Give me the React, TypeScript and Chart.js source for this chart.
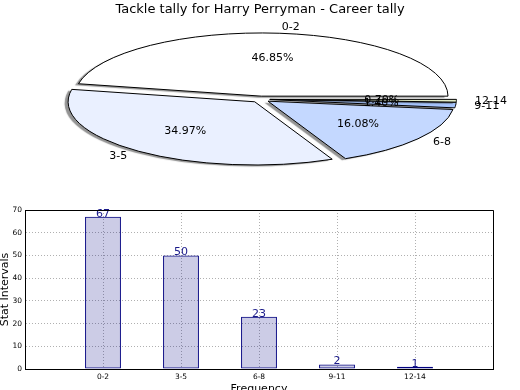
import React, { useEffect, useRef } from 'react';
import { Chart, registerables } from 'chart.js';

Chart.register(...registerables);

// ---- data ----
const chartTitle = 'Tackle tally for Harry Perryman - Career tally';
const categories = ['0-2', '3-5', '6-8', '9-11', '12-14'];
const tallies = [67, 50, 23, 2, 1];
const sliceColors = ['#ffffff', '#eaf0ff', '#c4d8ff', '#a6c4fc', '#e2ebc6'];
const xAxisTitle = 'Frequency';
const yAxisTitle = 'Stat Intervals';
const yMin = 0;
const yMax = 70;
const yStep = 10;

// ---- style / layout ----
const FONT = "'DejaVu Sans', sans-serif";
const EXPLODE = 0.05;
const LABEL_DIST = 1.1;
const PCT_DIST = 0.6;
const PIE = { cx: 260.5, cy: 99.3, rx: 186.6, ry: 63.2 };

const ellipsePiePlugin = {
  id: 'ellipsePie',
  afterUpdate(chart: any) {
    const meta = chart.getDatasetMeta(0);
    const first = meta.data[0];
    if (!first) return;
    const c = { x: first.x, y: first.y, r: first.outerRadius };
    chart.$pieCenter = c;
    meta.data.forEach((el: any) => {
      const mid = (el.startAngle + el.endAngle) / 2;
      el.x = c.x + Math.cos(mid) * EXPLODE * el.outerRadius;
      el.y = c.y + Math.sin(mid) * EXPLODE * el.outerRadius;
    });
  },
  beforeDatasetsDraw(chart: any) {
    const ctx = chart.ctx;
    const c = chart.$pieCenter;
    ctx.save();
    const base = ctx.getTransform();
    ctx.translate(PIE.cx, PIE.cy);
    ctx.scale(PIE.rx / c.r, -PIE.ry / c.r);
    ctx.translate(-c.x, -c.y);
    ctx.shadowColor = 'rgba(40,40,40,0.5)';
    ctx.shadowOffsetX = -3.5;
    ctx.shadowOffsetY = 1.5;
    ctx.shadowBlur = 1;
    const orig = CanvasRenderingContext2D.prototype.stroke;
    ctx.stroke = function (...args: any[]) {
      this.save();
      this.setTransform(base);
      this.shadowColor = 'rgba(0,0,0,0)';
      (orig as any).apply(this, args);
      this.restore();
    };
  },
  afterDatasetsDraw(chart: any) {
    const ctx = chart.ctx;
    delete ctx.stroke;
    ctx.restore();
    const meta = chart.getDatasetMeta(0);
    const values: number[] = chart.data.datasets[0].data;
    const total = values.reduce((a, b) => a + b, 0);
    ctx.save();
    ctx.fillStyle = '#000';
    ctx.font = `11px ${FONT}`;
    ctx.textBaseline = 'middle';
    meta.data.forEach((el: any, i: number) => {
      const mid = (el.startAngle + el.endAngle) / 2;
      const cos = Math.cos(mid);
      const sin = Math.sin(mid);
      // category label
      const lx = PIE.cx + PIE.rx * (LABEL_DIST + EXPLODE) * cos;
      const ly = PIE.cy - PIE.ry * (LABEL_DIST + EXPLODE) * sin;
      ctx.textAlign = cos > 0 ? 'left' : 'right';
      ctx.fillText(chart.data.labels[i], lx, ly);
      // percentage
      const px = PIE.cx + PIE.rx * (PCT_DIST + EXPLODE) * cos;
      const py = PIE.cy - PIE.ry * (PCT_DIST + EXPLODE) * sin;
      ctx.textAlign = 'center';
      ctx.fillText(((values[i] / total) * 100).toFixed(2) + '%', px, py);
    });
    ctx.restore();
  },
};

const barValuePlugin = {
  id: 'barValues',
  afterDatasetsDraw(chart: any) {
    const ctx = chart.ctx;
    const meta = chart.getDatasetMeta(0);
    ctx.save();
    ctx.fillStyle = '#1a1a8a';
    ctx.font = `11px ${FONT}`;
    ctx.textAlign = 'center';
    ctx.textBaseline = 'alphabetic';
    meta.data.forEach((el: any, i: number) => {
      ctx.fillText(String(tallies[i]), el.x, el.y);
    });
    ctx.restore();
  },
};

const framePlugin = {
  id: 'frame',
  afterDraw(chart: any) {
    const { ctx, chartArea: a } = chart;
    ctx.save();
    ctx.strokeStyle = '#000';
    ctx.lineWidth = 1;
    ctx.beginPath();
    ctx.rect(a.left + 0.5, a.top + 0.5, a.right - a.left, a.bottom - a.top);
    ctx.stroke();
    ctx.restore();
  },
};

export default function App() {
  const pieRef = useRef<HTMLCanvasElement>(null);
  const barRef = useRef<HTMLCanvasElement>(null);

  useEffect(() => {
    const pie = new Chart(pieRef.current as HTMLCanvasElement, {
      type: 'pie',
      data: {
        labels: categories,
        datasets: [
          {
            data: tallies,
            backgroundColor: sliceColors,
            borderColor: '#000',
            borderWidth: 1,
            borderJoinStyle: 'miter',
            clip: false,
          } as any,
        ],
      },
      options: {
        animation: false,
        responsive: false,
        events: [],
        rotation: 90,
        layout: { padding: { top: 0, bottom: 4 } },
        plugins: {
          legend: { display: false },
          tooltip: { enabled: false },
          title: {
            display: true,
            text: chartTitle,
            color: '#000',
            font: { family: FONT, size: 13, weight: 'normal' as any },
            padding: { top: 2, bottom: 4 },
          },
        },
      },
      plugins: [ellipsePiePlugin],
    });

    const tickFont = { family: FONT, size: 7.5 };
    const borderOpts = { color: '#000', width: 1, dash: [1, 2] };

    const bar = new Chart(barRef.current as HTMLCanvasElement, {
      type: 'bar',
      data: {
        datasets: [
          {
            data: tallies.map((v, i) => ({ x: i + 1, y: v })),
            backgroundColor: 'rgba(0,0,128,0.2)',
            borderColor: '#000080',
            borderWidth: 1,
            borderSkipped: false,
            barPercentage: 0.46,
            categoryPercentage: 1,
          } as any,
        ],
      },
      options: {
        animation: false,
        responsive: false,
        events: [],
        layout: { padding: { left: 0, right: 27, top: 10, bottom: 0 } },
        plugins: { legend: { display: false }, tooltip: { enabled: false } },
        scales: {
          x: {
            type: 'linear',
            min: 0,
            max: categories.length + 1,
            offset: false,
            ticks: {
              stepSize: 1,
              autoSkip: false,
              maxRotation: 0,
              padding: 4,
              color: '#000',
              font: tickFont,
              callback: (v: any) => categories[Number(v) - 1] ?? '',
            },
            grid: { color: '#b0b0b0', lineWidth: 1, drawTicks: false, offset: false },
            border: borderOpts,
            title: {
              display: true,
              text: xAxisTitle,
              color: '#000',
              font: { family: FONT, size: 11 },
              padding: { top: 0, bottom: 4 },
            },
            afterFit: (s: any) => {
              s.height = 31;
            },
          } as any,
          y: {
            min: yMin,
            max: yMax,
            ticks: { stepSize: yStep, padding: 3, color: '#000', font: tickFont },
            grid: { color: '#b0b0b0', lineWidth: 1, drawTicks: false },
            border: borderOpts,
            title: {
              display: true,
              text: yAxisTitle,
              color: '#000',
              font: { family: FONT, size: 11 },
              padding: { top: -1, bottom: 0 },
            },
            afterFit: (s: any) => {
              s.width = 25;
            },
          } as any,
        },
      },
      plugins: [barValuePlugin, framePlugin],
    });

    return () => {
      pie.destroy();
      bar.destroy();
    };
  }, []);

  return (
    <div
      style={{
        position: 'fixed',
        left: 0,
        top: 0,
        width: 520,
        height: 390,
        overflow: 'hidden',
        background: '#fff',
      }}
    >
      <canvas
        ref={pieRef}
        width={520}
        height={200}
        style={{ position: 'absolute', left: 0, top: 0, width: 520, height: 200 }}
      />
      <canvas
        ref={barRef}
        width={520}
        height={200}
        style={{ position: 'absolute', left: 0, top: 200, width: 520, height: 200 }}
      />
    </div>
  );
}
